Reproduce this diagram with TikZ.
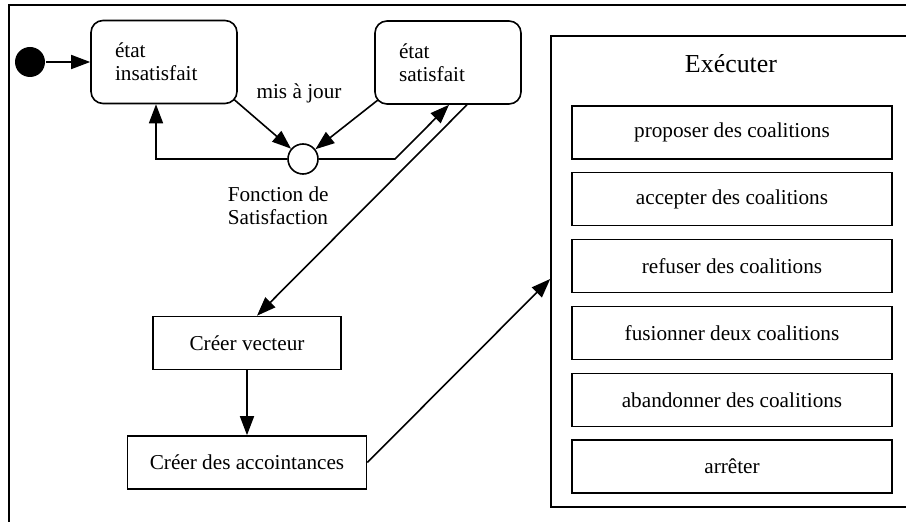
\documentclass[tikz,border=0pt]{standalone}
\usepackage{fontspec}
\setmainfont{Liberation Serif}
\usetikzlibrary{arrows.meta,calc}
\begin{document}
\begin{tikzpicture}[x=1bp,y=-1bp, line width=1.6bp,
  every node/.style={font=\fontsize{21.3}{23.5}\selectfont},
  state/.style={draw, rounded corners=12bp, minimum width=146bp, minimum height=83bp,
    text width=98bp, align=left, inner xsep=24bp, inner ysep=0pt},
  act/.style={draw, minimum height=53bp, inner sep=0pt},
  sub/.style={act, minimum width=320bp},
  arr/.style={-{Triangle[length=19bp,width=14bp]}}]
\useasboundingbox (0,0) rectangle (906,522);
\clip (0,0) rectangle (906,522);
\draw (9,5) rectangle (920,530);

\node[circle, fill, inner sep=0pt, minimum size=30bp] (init) at (30,62) {};
\node[state] (insat) at (164,62) {état\\insatisfait};
\node[state] (sat) at (448,62.5) {état\\satisfait};
\node[circle, draw, fill=white, inner sep=0pt, minimum size=30bp] (fs) at (303,159) {};
\node (maj) at (299,93) {mis à jour};
\node[align=left, anchor=north west, inner sep=0pt] (fslbl) at (227,186) {Fonction de\\Satisfaction};

\node[act, minimum width=188bp] (cv) at (247,343) {Créer vecteur};
\node[act, minimum width=239bp] (ca) at (247,462.5) {Créer des accointances};

\node[draw, minimum width=364bp, minimum height=471bp, inner sep=0pt] (exec) at (733,271.5) {};
\node[font=\fontsize{26}{30}\selectfont] (title) at (731,64) {Exécuter};
\node[sub] (s1) at (732,132.5) {proposer des coalitions};
\node[sub] (s2) at (732,199) {accepter des coalitions};
\node[sub] (s3) at (732,266) {refuser des coalitions};
\node[sub] (s4) at (732,333) {fusionner deux coalitions};
\node[sub] (s5) at (732,400) {abandonner des coalitions};
\node[sub] (s6) at (732,466.5) {arrêter};

\draw[arr] (init) -- (insat);
\draw[arr] ($(insat.south east)+(-4,-5)$) -- (fs);
\draw[arr] ($(sat.south west)+(4,-5)$) -- (fs);
\draw[arr] (fs.west) -| ($(insat.south)+(-8,0)$);
\coordinate (k1) at (395,159);
\draw[arr] (fs.east) -- (k1) -- ($(sat.south)+(1,0)$);
\draw[arr] ($(sat.south)+(19,0)$) -- ($(cv.north)+(10,0)$);
\draw[arr] (cv) -- (ca);
\draw[arr] (ca.east) -- ($(exec.west)+(0,7.5)$);
\end{tikzpicture}
\end{document}
